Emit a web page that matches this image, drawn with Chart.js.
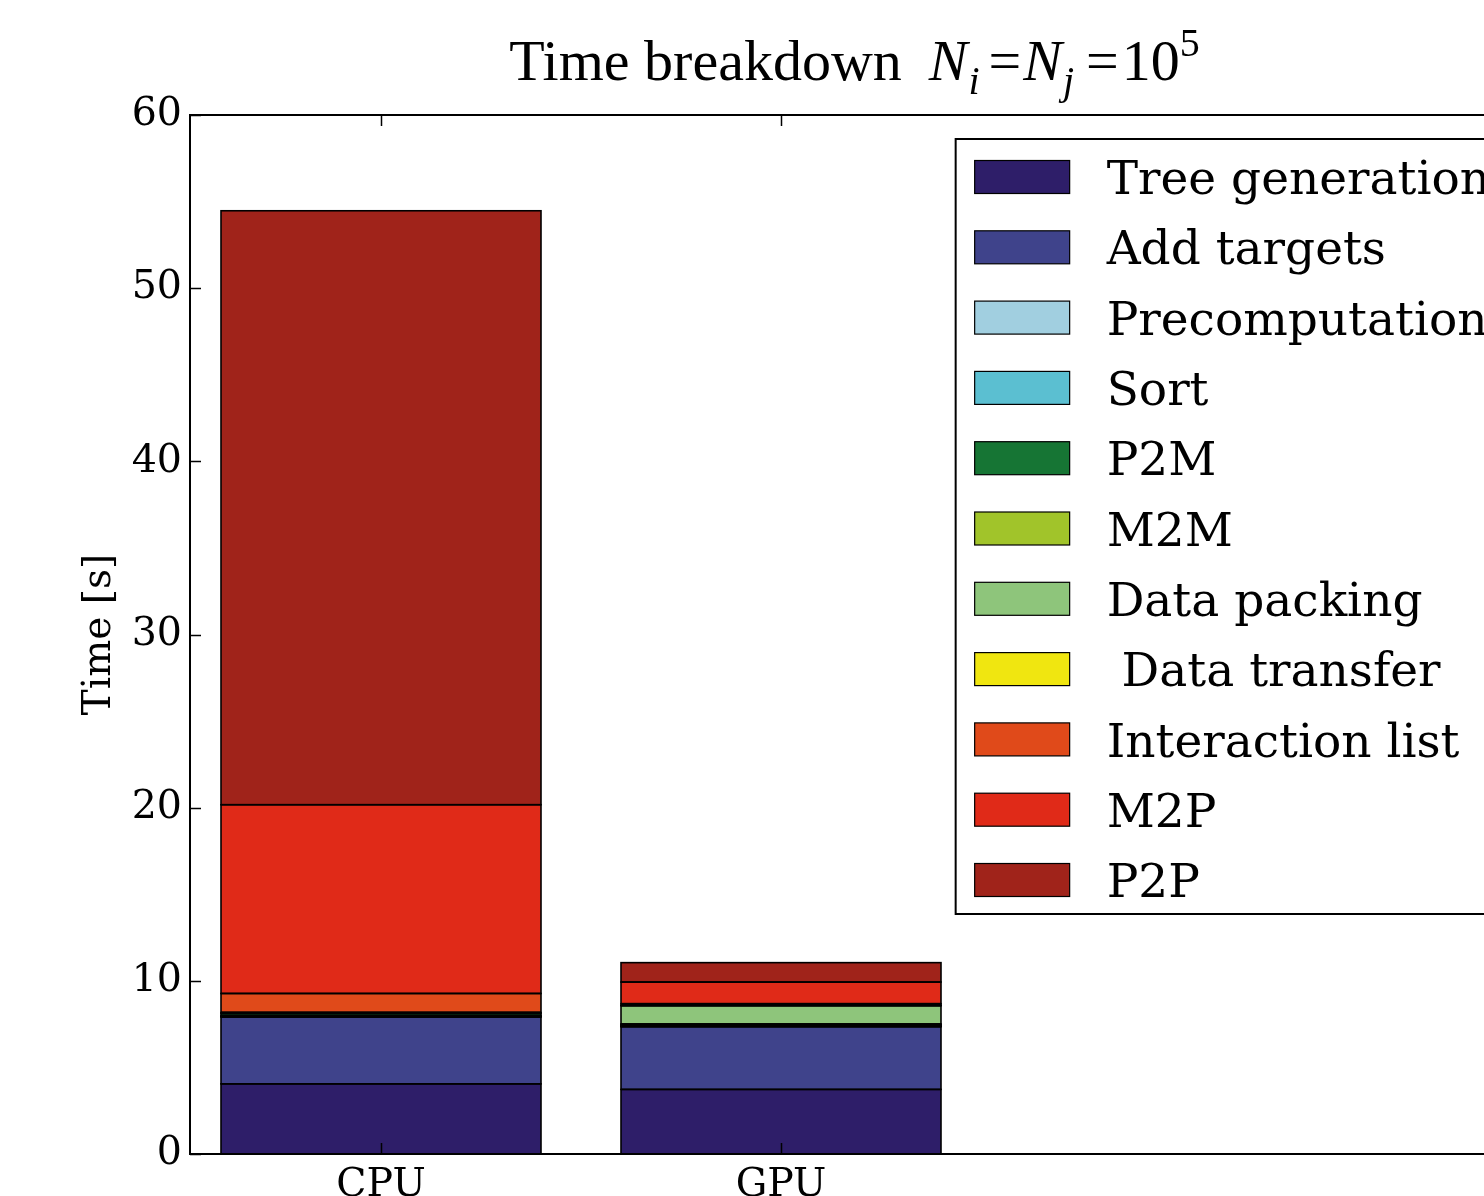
<!DOCTYPE html>
<html>
<head>
<meta charset="utf-8">
<title>Time breakdown</title>
<script src="https://cdn.jsdelivr.net/npm/chart.js@4/dist/chart.umd.min.js"></script>
<style>
  html, body { margin: 0; padding: 0; background: #fff; overflow: hidden; }
  #wrap { width: 1484px; height: 1196px; overflow: hidden; }
  canvas { display: block; }
</style>
</head>
<body>
<div id="wrap"><canvas id="chart" width="1560" height="1224"></canvas></div>
<script>
const categories = ['CPU', 'GPU'];
const positions = [0, 1];

const treeGeneration = [4.05, 3.73];
const addTargets = [3.86, 3.62];
const precomputation = [0.03, 0.02];
const sortTime = [0.05, 0.04];
const p2m = [0.12, 0.06];
const m2m = [0.06, 0.04];
const dataPacking = [0, 1.05];
const dataTransfer = [0, 0.03];
const interactionList = [1.1, 0.09];
const m2p = [10.9, 1.25];
const p2p = [34.3, 1.12];

const yTicks = [0, 10, 20, 30, 40, 50, 60];

const series = [
  ['Tree generation', treeGeneration, '#2e1e69'],
  ['Add targets', addTargets, '#3f438b'],
  ['Precomputation', precomputation, '#a1cfe0'],
  ['Sort', sortTime, '#5bbfd1'],
  ['P2M', p2m, '#167534'],
  ['M2M', m2m, '#a1c42a'],
  ['Data packing', dataPacking, '#8ec57b'],
  [' Data transfer', dataTransfer, '#f0e610'],
  ['Interaction list', interactionList, '#e04a1a'],
  ['M2P', m2p, '#e02a18'],
  ['P2P', p2p, '#a0231a'],
];

const serif = "'DejaVu Serif', serif";

const datasets = series.map(([label, values, color]) => ({
  label: label,
  data: values.map((v, i) => ({ x: positions[i], y: v })),
  backgroundColor: color,
  borderWidth: 0,
  inflateAmount: 0,
  categoryPercentage: 1.0,
  barPercentage: 0.8,
}));

// black edges centred on each bar outline, like matplotlib patches
const edgePlugin = {
  id: 'barEdges',
  afterDatasetsDraw(chart) {
    const ctx = chart.ctx;
    ctx.save();
    ctx.strokeStyle = '#000';
    ctx.lineWidth = 1.6;
    chart.data.datasets.forEach((ds, i) => {
      chart.getDatasetMeta(i).data.forEach((bar) => {
        const p = bar.getProps(['x', 'y', 'base', 'width'], true);
        const top = Math.min(p.y, p.base);
        const h = Math.abs(p.base - p.y);
        ctx.strokeRect(p.x - p.width / 2, top, p.width, h);
      });
    });
    ctx.restore();
  },
};

// axes frame with inward ticks, matplotlib style
const framePlugin = {
  id: 'frame',
  afterDatasetsDraw(chart) {
    const { ctx, chartArea: a, scales } = chart;
    ctx.save();
    ctx.strokeStyle = '#000';
    ctx.lineWidth = 1.5;
    ctx.beginPath();
    yTicks.forEach((v) => {
      const y = Math.round(scales.y.getPixelForValue(v)) + 0.5;
      ctx.moveTo(a.left, y);
      ctx.lineTo(a.left + 11, y);
      ctx.moveTo(a.right, y);
      ctx.lineTo(a.right - 11, y);
    });
    positions.forEach((v) => {
      const x = Math.round(scales.x.getPixelForValue(v)) + 0.5;
      ctx.moveTo(x, a.bottom);
      ctx.lineTo(x, a.bottom - 11);
      ctx.moveTo(x, a.top);
      ctx.lineTo(x, a.top + 11);
    });
    ctx.stroke();
    ctx.lineWidth = 2;
    ctx.strokeRect(a.left, a.top, a.right - a.left, a.bottom - a.top);
    ctx.restore();
  },
};

const legendPlugin = {
  id: 'boxLegend',
  afterDraw(chart) {
    const { ctx, chartArea: a } = chart;
    const fontSize = 47;
    const padL = 19, swW = 95, swH = 33, gap = 37, padR = 7;
    const rowH = 70.3, top = a.top + 24;
    ctx.save();
    ctx.font = fontSize + 'px ' + serif;
    const maxText = Math.max(...series.map((s) => ctx.measureText(s[0]).width));
    const width = padL + swW + gap + maxText + padR;
    const height = 38 + rowH * (series.length - 1) + 34;
    const left = a.right - 24 - width;
    ctx.fillStyle = '#fff';
    ctx.fillRect(left, top, width, height);
    ctx.strokeStyle = '#000';
    ctx.lineWidth = 2;
    ctx.strokeRect(left, top, width, height);
    series.forEach(([label, , color], i) => {
      const cy = top + 38 + i * rowH;
      ctx.fillStyle = color;
      ctx.fillRect(left + padL, cy - swH / 2, swW, swH);
      ctx.lineWidth = 1.2;
      ctx.strokeRect(left + padL, cy - swH / 2, swW, swH);
      ctx.fillStyle = '#000';
      ctx.textBaseline = 'alphabetic';
      ctx.textAlign = 'left';
      ctx.fillText(label, left + padL + swW + gap, cy + 0.364 * fontSize);
    });
    ctx.restore();
  },
};

// title with sub/superscripts
const titlePlugin = {
  id: 'mathTitle',
  afterDraw(chart) {
    const { ctx, chartArea: a } = chart;
    const big = 58, small = 40;
    const rm = (s) => s + 'px "Liberation Serif", serif';
    const it = (s) => 'italic ' + s + 'px "Liberation Serif", serif';
    const parts = [
      { t: 'Time breakdown', f: rm(big), dy: 0, after: 27 },
      { t: 'N', f: it(big), dy: 0, after: 1 },
      { t: 'i', f: it(small), dy: 14, after: 9 },
      { t: '=', f: rm(big), dy: 0, after: 2 },
      { t: 'N', f: it(big), dy: 0, after: 1 },
      { t: 'j', f: it(small), dy: 14, after: 12 },
      { t: '=', f: rm(big), dy: 0, after: 3 },
      { t: '10', f: rm(big), dy: 0, after: 0 },
      { t: '5', f: rm(small), dy: -24, after: 0 },
    ];
    ctx.save();
    let total = 0;
    parts.forEach((p) => {
      ctx.font = p.f;
      p.w = ctx.measureText(p.t).width;
      total += p.w + p.after;
    });
    let x = (a.left + a.right) / 2 - total / 2 - 1;
    const base = 80;
    ctx.fillStyle = '#000';
    ctx.textBaseline = 'alphabetic';
    ctx.textAlign = 'left';
    parts.forEach((p) => {
      ctx.font = p.f;
      ctx.fillText(p.t, x, base + p.dy);
      x += p.w + p.after;
    });
    ctx.restore();
  },
};

new Chart(document.getElementById('chart'), {
  type: 'bar',
  data: { datasets: datasets },
  plugins: [edgePlugin, framePlugin, legendPlugin, titlePlugin],
  options: {
    responsive: false,
    animation: false,
    layout: { padding: { left: 0, top: 115, right: 39, bottom: 0 } },
    plugins: {
      legend: { display: false },
      title: { display: false },
      tooltip: { enabled: false },
    },
    scales: {
      x: {
        type: 'linear',
        stacked: true,
        offset: false,
        min: -0.4775,
        max: 2.85,
        grid: { display: false },
        border: { display: false },
        afterBuildTicks: (scale) => {
          scale.ticks = positions.map((v) => ({ value: v }));
        },
        afterFit: (scale) => {
          scale.height = 70;
        },
        ticks: {
          autoSkip: false,
          maxRotation: 0,
          padding: 0,
          color: '#000',
          font: { family: serif, size: 39.5 },
          callback: (value, index) => categories[index],
        },
      },
      y: {
        stacked: true,
        min: 0,
        max: 60,
        grid: { display: false },
        border: { display: false },
        afterFit: (scale) => {
          scale.width = 190;
        },
        ticks: {
          stepSize: 10,
          padding: 0,
          color: '#000',
          font: { family: serif, size: 39.5 },
        },
        title: {
          display: true,
          text: 'Time [s]',
          color: '#000',
          font: { family: serif, size: 39 },
          padding: { top: 76, bottom: 0 },
        },
      },
    },
  },
});
</script>
</body>
</html>
